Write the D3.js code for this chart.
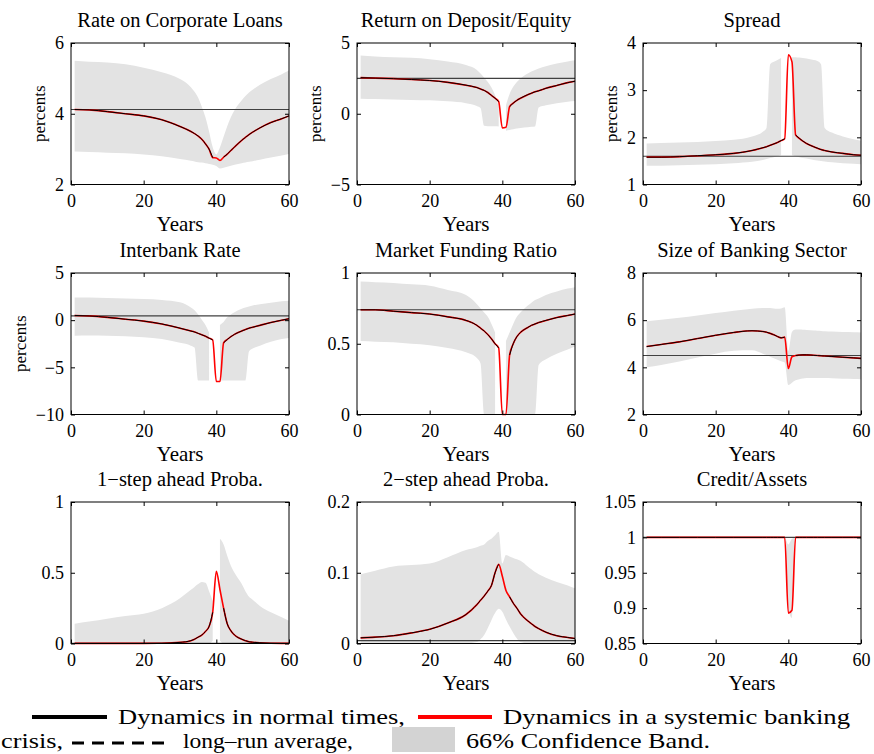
<!DOCTYPE html>
<html><head><meta charset="utf-8">
<script src="https://cdn.jsdelivr.net/npm/d3@7"></script>
<style>
html,body{margin:0;padding:0;background:#fff;}
svg{display:block;}
text{font-family:"Liberation Serif","Times New Roman",serif;fill:#000;}
</style></head>
<body>
<svg id="chart" width="874" height="754"></svg>
<script>
// ---------- data ----------
const years = [1,5,10,15,20,25,30,33,34,35,36,37,38,39,40,41,42,43,44,45,47,48,49,50,52,55,58,60];
const crisisYears = [40, 41];           // normal-times path is interrupted here
const xTicks = [0, 20, 40, 60];

const titles = ["Rate on Corporate Loans","Return on Deposit/Equity","Spread",
  "Interbank Rate","Market Funding Ratio","Size of Banking Sector",
  "1\u2212step ahead Proba.","2\u2212step ahead Proba.","Credit/Assets"];

const loanRate   = [4.12,4.11,4.06,4.00,3.94,3.83,3.64,3.50,3.44,3.37,3.28,3.15,3.00,2.76,2.75,2.68,2.77,2.86,2.96,3.06,3.25,3.33,3.41,3.48,3.60,3.75,3.86,3.94];
const loanRateHi = [5.50,5.47,5.45,5.40,5.30,5.17,4.98,4.75,4.62,4.45,4.20,3.90,3.50,3.05,2.85,3.05,3.35,3.65,3.90,4.10,4.38,4.50,4.60,4.68,4.82,4.98,5.12,5.22];
const loanRateLo = [2.93,2.92,2.90,2.88,2.85,2.80,2.72,2.67,2.65,2.63,2.62,2.60,2.58,2.56,2.52,2.45,2.47,2.50,2.53,2.56,2.60,2.62,2.64,2.66,2.70,2.76,2.82,2.86];
const loanRateAvg = 4.12;

const deposit   = [2.55,2.52,2.48,2.42,2.35,2.22,2.02,1.85,1.75,1.65,1.50,1.30,1.10,0.85,-1.00,-0.95,0.50,0.75,0.95,1.10,1.35,1.45,1.55,1.62,1.80,2.00,2.20,2.30];
const depositHi = [4.12,4.05,4.00,3.95,3.85,3.70,3.45,3.10,2.85,2.55,2.25,1.85,1.30,0.50,null,0.60,1.40,1.90,2.25,2.50,2.85,2.98,3.10,3.20,3.35,3.55,3.70,3.78];
const depositLo = [1.06,1.04,1.00,0.98,0.95,0.88,0.75,0.55,0.40,-0.85,-0.88,-0.88,-0.88,-0.90,null,-1.20,-1.15,-1.10,-1.05,-1.00,-0.95,-0.92,-0.90,0.45,0.60,0.75,0.85,0.90];
const depositAvg = 2.5;

const spread   = [1.58,1.58,1.59,1.61,1.63,1.66,1.72,1.78,1.80,1.83,1.86,1.89,1.93,1.97,3.75,3.60,2.05,1.98,1.92,1.87,1.80,1.77,1.74,1.72,1.69,1.66,1.63,1.62];
const spreadHi = [1.87,1.88,1.89,1.90,1.92,1.95,2.02,2.12,2.20,3.55,3.60,3.64,3.68,null,null,3.70,3.70,3.69,3.68,3.67,3.64,3.62,3.55,2.20,2.10,2.02,1.96,1.93];
const spreadLo = [1.40,1.40,1.41,1.42,1.43,1.45,1.48,1.52,1.54,1.56,1.58,1.60,1.62,null,null,1.62,1.60,1.58,1.56,1.55,1.52,1.51,1.50,1.49,1.47,1.45,1.44,1.43];
const spreadAvg = 1.6;

const interbank   = [0.50,0.45,0.30,0.10,-0.10,-0.40,-0.85,-1.15,-1.25,-1.40,-1.55,-1.70,-1.90,-2.10,-6.50,-6.50,-2.40,-2.05,-1.75,-1.50,-1.15,-1.00,-0.85,-0.75,-0.55,-0.25,0.00,0.15];
const interbankHi = [2.40,2.40,2.35,2.30,2.25,2.15,1.90,1.35,1.05,0.60,0.05,-0.50,-1.30,null,null,-0.50,-0.20,0.30,0.60,0.85,1.20,1.33,1.45,1.55,1.70,1.85,2.00,2.05];
const interbankLo = [-1.65,-1.62,-1.65,-1.70,-1.80,-2.00,-2.40,-2.70,-2.90,-6.40,-6.40,-6.40,-6.40,null,null,-6.40,-6.40,-6.40,-6.40,-6.40,-6.40,-6.40,-3.30,-3.00,-2.70,-2.30,-2.00,-1.90];
const interbankAvg = 0.45;

const funding   = [0.74,0.74,0.73,0.72,0.71,0.69,0.665,0.63,0.61,0.59,0.565,0.535,0.50,0.47,0.0,0.0,0.42,0.50,0.55,0.58,0.615,0.63,0.64,0.65,0.665,0.685,0.70,0.71];
const fundingHi = [0.94,0.935,0.93,0.92,0.91,0.88,0.845,0.78,0.75,0.72,0.69,0.64,0.58,null,null,0.52,0.58,0.64,0.69,0.72,0.77,0.79,0.81,0.82,0.845,0.87,0.89,0.90];
const fundingLo = [0.52,0.515,0.51,0.50,0.49,0.47,0.44,0.40,0.36,0,0,0,0,null,null,0,0,0,0,0,0,0,0,0.35,0.39,0.43,0.46,0.48];
const fundingAvg = 0.74;

const bankSize   = [4.88,4.97,5.08,5.22,5.36,5.48,5.55,5.52,5.49,5.44,5.38,5.31,5.25,5.28,3.95,4.45,4.50,4.52,4.53,4.53,4.51,4.50,4.49,4.48,4.46,4.43,4.40,4.38];
const bankSizeHi = [5.95,6.02,6.10,6.20,6.30,6.40,6.48,6.52,6.52,6.52,6.50,6.48,6.50,6.55,4.70,5.50,5.60,5.60,5.59,5.58,5.56,5.55,5.54,5.53,5.52,5.50,5.49,5.48];
const bankSizeLo = [4.00,4.10,4.25,4.42,4.58,4.70,4.72,4.58,4.52,4.45,4.38,4.32,4.26,4.20,3.25,3.35,3.45,3.50,3.53,3.55,3.55,3.55,3.55,3.55,3.54,3.52,3.51,3.50];
const bankSizeAvg = 4.5;

const prob1   = [0.001,0.001,0.001,0.001,0.001,0.002,0.008,0.020,0.030,0.045,0.060,0.085,0.120,0.220,0.510,0.380,0.250,0.140,0.090,0.060,0.030,0.020,0.012,0.009,0.005,0.002,0.001,0.001];
const prob1Hi = [0.140,0.155,0.175,0.195,0.210,0.250,0.320,0.380,0.400,0.420,0.435,0.430,0.370,0.300,null,0.740,0.700,0.620,0.550,0.500,0.420,0.370,0.330,0.310,0.265,0.220,0.185,0.160];
const prob1Lo = [0,0,0,0,0,0,0,0,0,0,0,0,0,0.020,null,0.020,0,0,0,0,0,0,0,0,0,0,0,0];
const prob1Avg = 0.002;

const prob2   = [0.008,0.009,0.011,0.015,0.020,0.029,0.041,0.055,0.061,0.067,0.074,0.082,0.100,0.112,0.095,0.075,0.066,0.057,0.050,0.042,0.032,0.028,0.024,0.021,0.016,0.011,0.0085,0.007];
const prob2Hi = [0.098,0.103,0.109,0.111,0.113,0.122,0.132,0.136,0.138,0.140,0.145,0.148,0.153,0.158,0.113,0.125,0.123,0.121,0.119,0.117,0.109,0.105,0.101,0.098,0.093,0.087,0.082,0.078];
const prob2Lo = [0,0,0,0,0,0,0,0.002,0.006,0.012,0.022,0.033,0.043,0.049,0.045,0.034,0.024,0.015,0.007,0.002,0,0,0,0,0,0,0,0];
const prob2Avg = 0.004;

const credit   = [1,1,1,1,1,1,1,1,1,1,1,1,1,1,0.893,0.897,1,1,1,1,1,1,1,1,1,1,1,1];
const creditHi = [1,1,1,1,1,1,1,1,1,1,1,1,1,1,0.990,0.998,1,1,1,1,1,1,1,1,1,1,1,1];
const creditLo = [1,1,1,1,1,1,1,1,1,1,1,1,1,1,0.900,0.886,1,1,1,1,1,1,1,1,1,1,1,1];
const creditAvg = 1.0;

const yDomains = [[2,6],[-5,5],[1,4],[-10,5],[0,1],[2,8],[0,1],[0,0.2],[0.85,1.05]];
const yTicks = [[2,4,6],[-5,0,5],[1,2,3,4],[-10,-5,0,5],[0,0.5,1],[2,4,6,8],[0,0.5,1],[0,0.1,0.2],[0.85,0.9,0.95,1,1.05]];
const hasYLabel = [true,true,true,true,false,false,false,false,false];

const panels = [
  [loanRate, loanRateLo, loanRateHi, loanRateAvg],
  [deposit, depositLo, depositHi, depositAvg],
  [spread, spreadLo, spreadHi, spreadAvg],
  [interbank, interbankLo, interbankHi, interbankAvg],
  [funding, fundingLo, fundingHi, fundingAvg],
  [bankSize, bankSizeLo, bankSizeHi, bankSizeAvg],
  [prob1, prob1Lo, prob1Hi, prob1Avg],
  [prob2, prob2Lo, prob2Hi, prob2Avg],
  [credit, creditLo, creditHi, creditAvg]
];

// ---------- layout ----------
const colLeft = [71, 357, 643];
const rowTop = [43, 273, 502];
const pw = 218, ph = 141.5;
const bandColor = "#e3e3e3";

const svg = d3.select("#chart");
const fmt = d => String(+d.toFixed(3)).replace("-", "\u2212");

panels.forEach((p, k) => {
  const [line, lo, hi, avg] = p;
  const col = k % 3, row = Math.floor(k / 3);
  const g = svg.append("g").attr("transform", `translate(${colLeft[col]},${rowTop[row]})`);
  const x = d3.scaleLinear().domain([0, 60]).range([0, pw]);
  const y = d3.scaleLinear().domain(yDomains[k]).range([ph, 0]);
  const data = years.map((yr, i) => ({x: yr, y: line[i], lo: lo[i], hi: hi[i]}));

  // band
  g.append("path").datum(data)
    .attr("fill", bandColor)
    .attr("d", d3.area().defined(d => d.lo != null && d.hi != null)
      .curve(d3.curveMonotoneX)
      .x(d => x(d.x)).y0(d => y(d.lo)).y1(d => y(d.hi)));

  // long-run average
  g.append("line").attr("x1", 0).attr("x2", pw)
    .attr("y1", y(avg)).attr("y2", y(avg))
    .attr("stroke", "#404040").attr("stroke-width", 1.1);

  // crisis path (red) and normal times (black)
  g.append("path").datum(data).attr("fill", "none")
    .attr("stroke", "#ff0000").attr("stroke-width", 1.6)
    .attr("d", d3.line().curve(d3.curveMonotoneX).x(d => x(d.x)).y(d => y(d.y)));
  g.append("path").datum(data).attr("fill", "none")
    .attr("stroke", "#000").attr("stroke-width", 1)
    .attr("d", d3.line().defined(d => !crisisYears.includes(d.x))
      .curve(d3.curveMonotoneX).x(d => x(d.x)).y(d => y(d.y)));

  // axes
  const ax = a => a.tickSizeInner(-4).tickSizeOuter(0);
  const bottom = g.append("g").attr("transform", `translate(0,${ph})`)
    .call(ax(d3.axisBottom(x)).tickValues(xTicks).tickPadding(10).tickFormat(d3.format("d")));
  const top = g.append("g").call(ax(d3.axisTop(x)).tickValues(xTicks).tickFormat(""));
  const left = g.append("g")
    .call(ax(d3.axisLeft(y)).tickValues(yTicks[k]).tickPadding(7).tickFormat(fmt));
  const right = g.append("g").attr("transform", `translate(${pw},0)`)
    .call(ax(d3.axisRight(y)).tickValues(yTicks[k]).tickFormat(""));
  [bottom, top, left, right].forEach(s => {
    s.select(".domain").remove();
    s.selectAll("line").attr("stroke", "#000");
    s.selectAll("text").attr("font-size", 18).attr("font-family", "Liberation Serif").attr("fill", "#000");
  });
  g.append("rect").attr("width", pw).attr("height", ph)
    .attr("fill", "none").attr("stroke", "#000").attr("stroke-width", 1);

  // title and labels
  g.append("text").attr("x", pw / 2).attr("y", -16).attr("text-anchor", "middle")
    .attr("font-size", 20.5).text(titles[k]);
  g.append("text").attr("x", pw / 2).attr("y", ph + 46).attr("text-anchor", "middle")
    .attr("font-size", 21).text("Years");
  if (hasYLabel[k]) {
    let maxW = 0;
    left.selectAll("text").each(function () { maxW = Math.max(maxW, this.getComputedTextLength()); });
    const lx = -7 - maxW - 16;
    g.append("text").attr("transform", `translate(${lx},${ph / 2}) rotate(-90)`)
      .attr("text-anchor", "middle").attr("dy", "0.35em")
      .attr("font-size", 17).text("percents");
  }
});

// ---------- legend ----------
const lg = svg.append("g");
const lfs = 21;
lg.append("line").attr("x1", 32).attr("x2", 107).attr("y1", 717).attr("y2", 717)
  .attr("stroke", "#000").attr("stroke-width", 4);
lg.append("text").attr("x", 118).attr("y", 724).attr("font-size", lfs)
  .attr("textLength", 287).attr("lengthAdjust", "spacingAndGlyphs").text("Dynamics in normal times,");
lg.append("line").attr("x1", 418).attr("x2", 492).attr("y1", 717).attr("y2", 717)
  .attr("stroke", "#ff0000").attr("stroke-width", 4);
lg.append("text").attr("x", 503).attr("y", 724).attr("font-size", lfs)
  .attr("textLength", 347).attr("lengthAdjust", "spacingAndGlyphs").text("Dynamics in a systemic banking");
lg.append("text").attr("x", 1).attr("y", 748).attr("font-size", lfs)
  .attr("textLength", 62).attr("lengthAdjust", "spacingAndGlyphs").text("crisis,");
lg.append("line").attr("x1", 72).attr("x2", 165).attr("y1", 743).attr("y2", 743)
  .attr("stroke", "#000").attr("stroke-width", 3).attr("stroke-dasharray", "12,8");
lg.append("text").attr("x", 183).attr("y", 748).attr("font-size", lfs)
  .attr("textLength", 170).attr("lengthAdjust", "spacingAndGlyphs").text("long\u2013run average,");
lg.append("rect").attr("x", 392).attr("y", 727).attr("width", 63).attr("height", 25)
  .attr("fill", "#d3d3d3");
lg.append("text").attr("x", 466).attr("y", 748).attr("font-size", lfs)
  .attr("textLength", 244).attr("lengthAdjust", "spacingAndGlyphs").text("66% Confidence Band.");
</script>
</body></html>
